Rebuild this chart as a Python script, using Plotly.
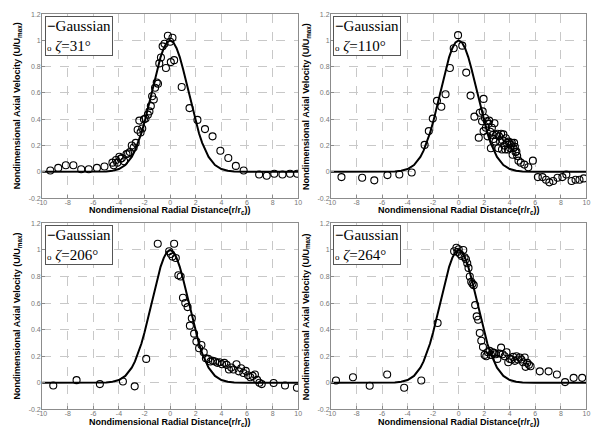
import plotly.graph_objects as go

W, H = 596, 434

# ---------------- data ----------------
x_tick_vals = [-10, -8, -6, -4, -2, 0, 2, 4, 6, 8, 10]
x_tick_text = ["-10", "-8", "-6", "-4", "-2", "0", "2", "4", "6", "8", "10"]
y_tick_vals = [-0.2, 0, 0.2, 0.4, 0.6, 0.8, 1, 1.2]
y_tick_text = ["-0.2", "0", "0.2", "0.4", "0.6", "0.8", "1", "1.2"]

gauss_x = [-10, -6, -5, -4.5, -4, -3.5, -3, -2.75, -2.5, -2.25, -2, -1.75, -1.5, -1.25,
           -1, -0.75, -0.5, -0.25, 0, 0.25, 0.5, 0.75, 1, 1.25, 1.5, 1.75, 2, 2.25,
           2.5, 2.75, 3, 3.5, 4, 4.5, 5, 6, 10]
gauss_y = [0, 0, 0.002, 0.008, 0.021, 0.052, 0.114, 0.161, 0.221, 0.294, 0.380, 0.477,
           0.581, 0.686, 0.785, 0.873, 0.941, 0.985, 1.0, 0.985, 0.941, 0.873, 0.785,
           0.686, 0.581, 0.477, 0.380, 0.294, 0.221, 0.161, 0.114, 0.052, 0.021, 0.008,
           0.002, 0, 0]

x31 = [-9.36, -8.74, -8.15, -7.56, -6.95, -6.36, -5.72, -5.13, -4.51, -4.41, -4.23, -4.13,
       -3.97, -3.87, -3.77, -3.59, -3.41, -3.28, -3.15, -3.0, -2.85, -2.69, -2.54, -2.41,
       -2.31, -2.18, -2.05, -1.92, -1.74, -1.62, -1.51, -1.41, -1.28, -1.18, -1.05, -0.95,
       -0.85, -0.72, -0.59, -0.44, -0.33, -0.18, 0.0, 0.05, 0.18, 0.31, 0.9, 1.51, 2.13,
       2.72, 3.31, 3.92, 4.54, 5.13, 5.74, 6.95, 7.54, 8.13, 8.77, 9.36, 9.92]
y31 = [0.01, 0.03, 0.05, 0.05, 0.02, 0.02, 0.03, 0.04, 0.07, 0.05, 0.09, 0.07,
       0.115, 0.10, 0.105, 0.08, 0.135, 0.14, 0.15, 0.2, 0.185, 0.22, 0.32, 0.39,
       0.30, 0.33, 0.40, 0.405, 0.435, 0.46, 0.50, 0.575, 0.55, 0.64, 0.68, 0.67,
       0.825, 0.87, 0.955, 0.975, 0.79, 1.035, 0.99, 0.835, 1.02, 0.85, 0.645, 0.485, 0.395,
       0.325, 0.27, 0.16, 0.105, 0.045, 0.01, -0.02, -0.03, -0.015, -0.02, -0.015, -0.015]

x110 = [-9.18, -7.56, -6.61, -5.58, -4.65, -3.68, -2.67, -2.34, -2.03, -1.70, -1.36, -1.03,
        -0.69, -0.39, -0.05, 0.28, 0.59, 0.93, 1.23, 1.57, 1.65, 1.83, 1.88, 1.95, 1.95,
        2.06, 2.13, 2.21, 2.26, 2.34, 2.39, 2.47, 2.52, 2.60, 2.67, 2.73, 2.80, 2.88, 2.93,
        3.03, 3.11, 3.16, 3.24, 3.32, 3.39, 3.44, 3.50, 3.57, 3.65, 3.70, 3.78, 3.86, 3.91,
        3.98, 4.04, 4.11, 4.16, 4.22, 4.29, 4.34, 4.40, 4.45, 4.52, 4.58, 4.68, 4.86, 5.14,
        5.45, 5.81, 6.20, 6.56, 6.84, 7.10, 7.40, 7.74, 8.12, 8.43, 8.84, 9.15, 9.46, 9.79]
y110 = [-0.04, -0.045, -0.065, -0.025, -0.02, -0.005, 0.205, 0.31, 0.405, 0.54, 0.495, 0.59,
        0.79, 0.94, 1.04, 0.96, 0.755, 0.58, 0.42, 0.26, 0.45, 0.385, 0.46, 0.555, 0.31,
        0.41, 0.335, 0.385, 0.27, 0.365, 0.39, 0.305, 0.18, 0.335, 0.28, 0.25, 0.37, 0.23, 0.28,
        0.29, 0.18, 0.27, 0.23, 0.29, 0.17, 0.24, 0.285, 0.20, 0.17, 0.255, 0.22, 0.17, 0.23,
        0.21, 0.18, 0.205, 0.22, 0.13, 0.18, 0.22, 0.19, 0.15, 0.155, 0.12, 0.085, 0.07, 0.055,
        0.035, 0.085, -0.04, -0.04, -0.06, -0.08, -0.07, -0.045, -0.04, -0.02, -0.07, -0.06, -0.06, -0.05]

x206 = [-9.13, -7.31, -5.49, -3.69, -2.77, -1.87, -0.97, -0.08, 0.05, 0.18, 0.31, 0.44,
        0.64, 0.82, 1.0, 1.18, 1.36, 1.54, 1.69, 1.87, 2.05, 2.26, 2.44, 2.62, 2.79, 2.97,
        3.15, 3.33, 3.51, 3.69, 3.87, 4.05, 4.23, 4.41, 4.59, 4.77, 4.95, 5.18, 5.36, 5.54,
        5.72, 5.90, 6.08, 6.26, 6.44, 6.62, 6.79, 6.97, 7.15, 8.08, 8.97, 9.9]
y206 = [-0.02, 0.02, -0.01, 0.01, -0.027, 0.18, 1.047, 0.99, 0.97, 0.95, 1.047, 0.94,
        0.81, 0.80, 0.64, 0.60, 0.57, 0.43, 0.485, 0.37, 0.31, 0.26, 0.285, 0.23, 0.185, 0.18,
        0.16, 0.165, 0.16, 0.15, 0.155, 0.14, 0.15, 0.135, 0.10, 0.115, 0.10, 0.14, 0.086, 0.11,
        0.074, 0.09, 0.057, 0.042, 0.052, 0.062, 0.022, 0.0, -0.01, -0.002, -0.02, -0.037]

x264 = [-9.61, -8.28, -6.97, -5.60, -4.27, -2.93, -1.65, -0.36, -0.18, -0.10, 0.0, 0.10,
        0.23, 0.36, 0.46, 0.57, 0.67, 0.77, 0.87, 0.98, 1.08, 1.18, 1.29, 1.41, 1.52, 1.65,
        1.77, 1.90, 2.03, 2.16, 2.29, 2.42, 2.52, 2.65, 2.78, 2.90, 3.03, 3.19, 3.32, 3.44,
        3.60, 3.75, 3.88, 4.01, 4.14, 4.27, 4.40, 4.52, 4.65, 4.78, 4.91, 5.04, 5.17, 5.24,
        5.37, 5.50, 5.63, 6.35, 7.04, 7.69, 8.33, 9.0, 9.67]
y264 = [0.017, 0.042, -0.022, 0.062, -0.037, 0.017, 0.45, 0.99, 1.017, 0.985, 1.005, 0.97,
        0.955, 1.0, 0.945, 0.93, 0.90, 0.865, 0.80, 0.76, 0.745, 0.735, 0.585, 0.50, 0.475, 0.375,
        0.316, 0.27, 0.21, 0.20, 0.23, 0.24, 0.21, 0.23, 0.225, 0.215, 0.18, 0.22, 0.265, 0.215,
        0.20, 0.23, 0.155, 0.18, 0.175, 0.195, 0.165, 0.20, 0.175, 0.19, 0.175, 0.155, 0.19, 0.12,
        0.15, 0.135, 0.125, 0.086, 0.086, 0.062, 0.005, 0.037, 0.037]

angles = ["31", "110", "206", "264"]
series = [(x31, y31), (x110, y110), (x206, y206), (x264, y264)]

# ---------------- layout geometry (pixels) ----------------
panels = [  # left, right, top, bottom
    (37.7, 297.7, 10.3, 197.3),
    (331.0, 590.3, 10.3, 197.3),
    (37.7, 297.7, 223.0, 412.0),
    (331.0, 590.3, 223.0, 412.0),
]

fig = go.Figure()
annotations = []
axis_common = dict(
    showline=True, mirror=True, linecolor="#8c8c8c", linewidth=1,
    showgrid=True, gridcolor="#c8c8c8", griddash="dash", gridwidth=1,
    zeroline=False, ticks="inside", ticklen=3, tickcolor="#8c8c8c",
    tickfont=dict(family="Liberation Sans, Arial", size=7, color="#777777"),
)

for i, ((xs, ys), ang, (l, r, t, b)) in enumerate(zip(series, angles, panels)):
    n = "" if i == 0 else str(i + 1)
    xa, ya = "x" + n, "y" + n
    fig.add_trace(go.Scatter(x=gauss_x, y=gauss_y, mode="lines",
                             line=dict(color="black", width=2),
                             xaxis=xa, yaxis=ya, showlegend=False, name="Gaussian"))
    fig.add_trace(go.Scatter(x=xs, y=ys, mode="markers",
                             marker=dict(symbol="circle-open", size=7, color="black",
                                         line=dict(width=1.1, color="black")),
                             xaxis=xa, yaxis=ya, showlegend=False, name="ζ=" + ang + "°"))
    fig.layout["xaxis" + n] = dict(axis_common, domain=[l / W, r / W], range=[-10, 10],
                                   tickvals=x_tick_vals, ticktext=x_tick_text, anchor=ya,
                                   ticklabelstandoff=-3)
    fig.layout["yaxis" + n] = dict(axis_common, domain=[1 - b / H, 1 - t / H], range=[-0.2, 1.2],
                                   tickvals=y_tick_vals, ticktext=y_tick_text, anchor=xa,
                                   ticklabelstandoff=-1)
    # axis titles
    annotations.append(dict(
        xref="paper", yref="paper", x=(l + r) / 2 / W, y=1 - (b + 13) / H,
        xanchor="center", yanchor="middle", showarrow=False,
        text="<b>Nondimensional Radial Distance(r/r<sub>c</sub>))</b>",
        font=dict(family="Liberation Sans, Arial", size=9, color="black")))
    annotations.append(dict(
        xref="paper", yref="paper", x=(l - 25.5) / W, y=1 - (t + b) / 2 / H,
        xanchor="center", yanchor="middle", showarrow=False, textangle=-90,
        text="<b>Nondimensional Axial Velocity (U/U<sub>max</sub>)</b>",
        font=dict(family="Liberation Sans, Arial", size=9, color="black")))
    # legend box
    annotations.append(dict(
        xref="paper", yref="paper", x=(l + 2.5) / W, y=1 - (t + 1.5) / H,
        xanchor="left", yanchor="top", showarrow=False, align="left",
        text="<b>−</b>Gaussian<br><span style='font-size:9px'>o</span> <i>ζ</i>=" + ang + "°",
        font=dict(family="Liberation Serif, Times New Roman", size=15, color="black"),
        bgcolor="white", bordercolor="#555555", borderwidth=1, borderpad=1))

fig.update_layout(width=W, height=H, margin=dict(l=0, r=0, t=0, b=0),
                  paper_bgcolor="white", plot_bgcolor="white",
                  annotations=annotations, showlegend=False)
fig.write_html("out.html")
